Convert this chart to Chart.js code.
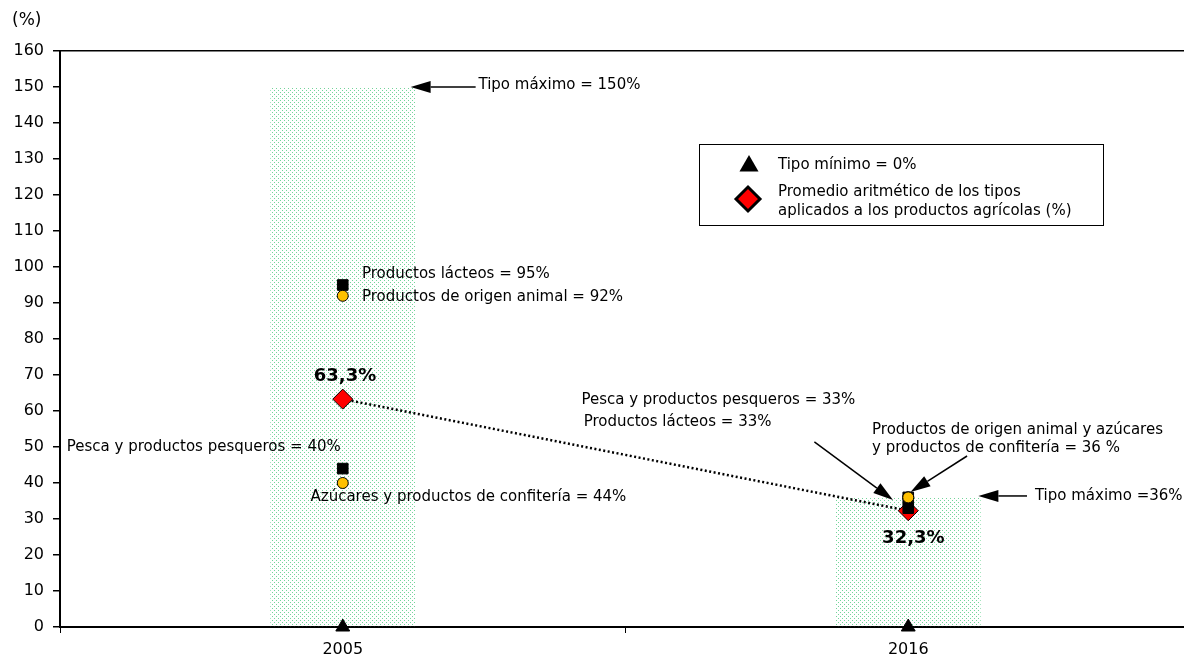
<!DOCTYPE html>
<html>
<head>
<meta charset="utf-8">
<script src="https://cdn.jsdelivr.net/npm/chart.js@4/dist/chart.umd.min.js"></script>
<style>
  html, body { margin: 0; padding: 0; background: #fff; overflow: hidden; }
  #chart { display: block; }
</style>
</head>
<body>
<canvas id="chart" width="1202" height="657"></canvas>
<script>
// Data
const years = ['2005', '2016'];
const maxRate = [150, 36];     // tipo máximo (barras punteadas)
const minRate = [0, 0];        // tipo mínimo (triángulos)
const avgRate = [63.3, 32.3];  // promedio aritmético (rombos)
const squaresA = [95, 36];
const squaresB = [44, 33];
const circlesA = [92, 36];
const circlesB = [40, 36];

// notes: [text, x (category index), y (%), align, bold]
const notes = [
  ['Tipo máximo = 150%', 0.24, 150.5, 'left', false],
  ['Productos lácteos = 95%', 0.034, 98, 'left', false],
  ['Productos de origen animal = 92%', 0.034, 91.7, 'left', false],
  ['63,3%', 0.004, 69.7, 'center', true],
  ['Pesca y productos pesqueros = 40%', -0.488, 50, 'left', false],
  ['Azúcares y productos de confitería = 44%', -0.057, 36.1, 'left', false],
  ['Pesca y productos pesqueros = 33%', 0.422, 63.1, 'left', false],
  ['Productos lácteos = 33%', 0.426, 57, 'left', false],
  ['Productos de origen animal y azúcares', 0.936, 54.7, 'left', false],
  ['y productos de confitería = 36 %', 0.936, 49.7, 'left', false],
  ['Tipo máximo =36%', 1.224, 36.4, 'left', false],
  ['32,3%', 1.009, 24.7, 'center', true]
];
// arrows: [xTail, yTail, xTip, yTip]
const arrows = [
  [0.235, 150, 0.12, 150],
  [0.834, 51.4, 0.973, 35.3],
  [1.104, 47.5, 1.004, 37.5],
  [1.21, 36.4, 1.124, 36.4]
];

const FONT = '"DejaVu Sans", Verdana, sans-serif';
const canvas = document.getElementById('chart');
const ctx = canvas.getContext('2d');

// green dotted fill like the original
function dotPattern() {
  const tile = document.createElement('canvas');
  tile.width = 4; tile.height = 4;
  const g = tile.getContext('2d');
  g.fillStyle = 'rgba(40,190,100,0.65)';
  g.fillRect(0, 0, 1, 1);
  g.fillRect(2, 2, 1, 1);
  return ctx.createPattern(tile, 'repeat');
}

function drawArrow(c, x1, y1, x2, y2) {
  const a = Math.atan2(y2 - y1, x2 - x1);
  const len = 20, half = 6;
  const bx = x2 - Math.cos(a) * len, by = y2 - Math.sin(a) * len;
  c.beginPath();
  c.moveTo(x1, y1);
  c.lineTo(bx, by);
  c.stroke();
  c.beginPath();
  c.moveTo(x2, y2);
  c.lineTo(bx - Math.sin(a) * half, by + Math.cos(a) * half);
  c.lineTo(bx + Math.sin(a) * half, by - Math.cos(a) * half);
  c.closePath();
  c.fill();
}

const annotations = {
  id: 'annotations',
  afterDatasetsDraw(chart) {
    const c = chart.ctx;
    const sx = chart.scales.x, sy = chart.scales.y;
    c.save();
    c.fillStyle = '#000';
    c.strokeStyle = '#000';
    c.textBaseline = 'middle';

    c.font = '17px ' + FONT;
    c.textAlign = 'left';
    c.fillText('(%)', 12, 21);

    notes.forEach(([t, x, y, align, bold]) => {
      c.font = (bold ? 'bold 18px ' : '15px ') + FONT;
      c.textAlign = align;
      c.fillText(t, sx.getPixelForValue(x), sy.getPixelForValue(y));
    });

    c.lineWidth = 1.5;
    arrows.forEach(([x1, y1, x2, y2]) => {
      drawArrow(c, sx.getPixelForValue(x1), sy.getPixelForValue(y1),
        sx.getPixelForValue(x2), sy.getPixelForValue(y2));
    });

    // legend box
    c.lineWidth = 1;
    c.strokeRect(699.5, 144.5, 404, 81);
    c.fillStyle = '#000';
    Chart.helpers.drawPoint(c, { pointStyle: 'triangle', radius: 11, rotation: 0, borderWidth: 0 }, 749, 166);
    c.fillStyle = '#ff0000';
    c.lineWidth = 3;
    Chart.helpers.drawPoint(c, { pointStyle: 'rectRot', radius: 12, rotation: 0, borderWidth: 3 }, 748, 199);
    c.fillStyle = '#000';
    c.font = '15px ' + FONT;
    c.textAlign = 'left';
    c.fillText('Tipo mínimo = 0%', 778, 165);
    c.fillText('Promedio aritmético de los tipos', 778, 192);
    c.fillText('aplicados a los productos agrícolas (%)', 778, 211);
    c.restore();
  }
};

const pointSet = (data, style, radius, fill, order) => ({
  type: 'line',
  data,
  showLine: false,
  pointStyle: style,
  pointRadius: radius,
  pointBackgroundColor: fill,
  pointBorderColor: '#000',
  pointBorderWidth: 1,
  clip: false,
  order
});

new Chart(ctx, {
  type: 'bar',
  data: {
    labels: years,
    datasets: [
      {
        data: maxRate,
        backgroundColor: dotPattern(),
        borderWidth: 0,
        categoryPercentage: 1,
        barPercentage: 0.256,
        order: 10
      },
      {
        type: 'line',
        data: avgRate,
        borderColor: '#000',
        borderWidth: 2.5,
        borderDash: [2, 2.5],
        pointStyle: 'rectRot',
        pointRadius: 10,
        pointBackgroundColor: '#ff0000',
        pointBorderColor: '#000',
        pointBorderWidth: 1,
        clip: false,
        order: 5
      },
      pointSet(squaresA, 'rect', 7.5, '#000', 4),
      pointSet(squaresB, 'rect', 7.5, '#000', 4),
      pointSet(circlesA, 'circle', 5.5, '#ffc000', 3),
      pointSet(circlesB, 'circle', 5.5, '#ffc000', 3),
      pointSet(minRate, 'triangle', 8, '#000', 1)
    ]
  },
  options: {
    responsive: false,
    animation: false,
    layout: { padding: { top: 51, right: 0, bottom: 0, left: 0 } },
    plugins: { legend: { display: false }, tooltip: { enabled: false } },
    scales: {
      x: {
        type: 'category',
        offset: true,
        grid: { offset: true, drawOnChartArea: false, tickLength: 6, color: '#000', tickColor: '#000' },
        border: { color: '#000', width: 2 },
        ticks: { color: '#000', font: { family: FONT, size: 16 }, padding: 7 },
        afterFit: (s) => { s.height = 30; }
      },
      y: {
        min: 0,
        max: 160,
        ticks: { stepSize: 10, color: '#000', font: { family: FONT, size: 16 }, padding: 9 },
        grid: {
          tickLength: 7,
          tickColor: '#000',
          tickWidth: 1.5,
          lineWidth: 1.5,
          color: (c) => (c.tick && c.tick.value === 160 ? '#000' : 'rgba(0,0,0,0)')
        },
        border: { color: '#000', width: 2 },
        afterFit: (s) => { s.width = 60; }
      }
    }
  },
  plugins: [annotations]
});
</script>
</body>
</html>
